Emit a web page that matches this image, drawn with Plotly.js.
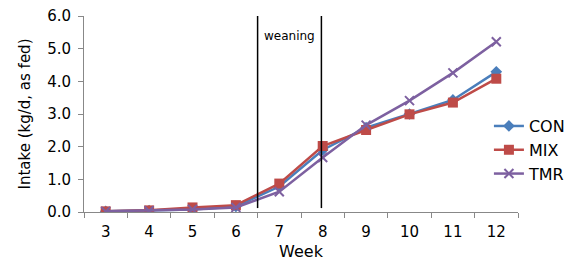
<!DOCTYPE html>
<html><head><meta charset="utf-8">
<script src="https://cdn.plot.ly/plotly-3.0.1.min.js"></script>
<style>html,body{margin:0;padding:0;background:#fff}#chart{width:573px;height:264px}</style>
</head><body><div id="chart"></div>
<script>
const weeks = ['3','4','5','6','7','8','9','10','11','12'];
const con = [0.02, 0.04, 0.08, 0.17, 0.78, 1.9, 2.58, 3.0, 3.43, 4.29];
const mix = [0.02, 0.05, 0.14, 0.21, 0.87, 2.02, 2.51, 2.99, 3.35, 4.08];
const tmr = [0.02, 0.04, 0.08, 0.14, 0.62, 1.67, 2.66, 3.41, 4.26, 5.21];
const weaningStart = 3.5; // category index between week 6 and 7
const weaningEnd = 4.97;  // at week 8

const fam = 'DejaVu Sans, sans-serif';
const traces = [
  {x: weeks, y: con, name: 'CON', type: 'scatter', mode: 'lines+markers',
   line: {color: '#4A7EBB', width: 2.5}, marker: {symbol: 'diamond', size: 9, color: '#4A7EBB'}},
  {x: weeks, y: mix, name: 'MIX', type: 'scatter', mode: 'lines+markers',
   line: {color: '#BE4B48', width: 2.5}, marker: {symbol: 'square', size: 10, color: '#BE4B48'}},
  {x: weeks, y: tmr, name: 'TMR', type: 'scatter', mode: 'lines+markers',
   line: {color: '#7D60A0', width: 2.5}, marker: {symbol: 'x-thin', size: 9, line: {color: '#7D60A0', width: 2}}}
];
const layout = {
  width: 573, height: 264,
  margin: {l: 84, r: 55, t: 16, b: 52, autoexpand: false},
  paper_bgcolor: '#fff', plot_bgcolor: '#fff',
  font: {family: fam, size: 15, color: '#000'},
  showlegend: true,
  legend: {x: 0.933, xanchor: 'left', y: 0.316, yanchor: 'middle', font: {family: fam, size: 16, color: '#000'},
           bgcolor: 'rgba(0,0,0,0)', tracegroupgap: 0, itemwidth: 30},
  xaxis: {type: 'category', range: [-0.5, 9.5], showgrid: false, zeroline: false,
          showline: true, linecolor: '#888', linewidth: 1,
          ticks: 'outside', tickson: 'boundaries', ticklen: 5, tickcolor: '#888',
          ticklabelstandoff: 6,
          tickfont: {family: fam, size: 15},
          title: {text: 'Week', font: {family: fam, size: 16}, standoff: 5}},
  yaxis: {range: [0, 6], dtick: 1, tickformat: '.1f', showgrid: false, zeroline: false,
          showline: true, linecolor: '#888', linewidth: 1,
          ticks: 'outside', ticklen: 5, tickcolor: '#888',
          ticklabelstandoff: 4,
          tickfont: {family: fam, size: 15},
          title: {text: 'Intake (kg/d, as fed)', font: {family: fam, size: 15}, standoff: 12}},
  shapes: [
    {type: 'line', xref: 'x', yref: 'y', x0: weaningStart, x1: weaningStart, y0: 0.12, y1: 6.1, line: {color: '#000', width: 1.5}},
    {type: 'line', xref: 'x', yref: 'y', x0: weaningEnd, x1: weaningEnd, y0: 0.12, y1: 6.1, line: {color: '#000', width: 1.5}}
  ],
  annotations: [
    {text: 'weaning', xref: 'x', yref: 'y', x: (weaningStart + weaningEnd) / 2, y: 5.4, showarrow: false,
     font: {family: fam, size: 12}}
  ]
};
Plotly.newPlot('chart', traces, layout, {displayModeBar: false, staticPlot: true});
</script></body></html>
